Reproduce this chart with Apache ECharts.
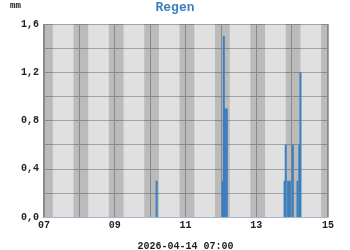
<!DOCTYPE html>
<html><head><meta charset="utf-8">
<script src="https://cdn.jsdelivr.net/npm/echarts@6/dist/echarts.min.js"></script>
<style>html,body{margin:0;padding:0;background:#fff}#c{width:350px;height:250px}</style>
</head><body><div id="c"></div>
<script>
const day = '2026-04-14';
const times = ['10:11','12:03','12:05','12:07','12:10','13:48','13:50','13:54','13:57','14:02','14:10','14:13','14:15'];
const values = [0.3,0.3,1.5,0.9,0.9,0.3,0.6,0.3,0.3,0.6,0.3,0.6,1.2];
const hours = [7,8,9,10,11,12,13,14,15];
const yMax = 1.6;
const titleText = 'Regen';
const unitText = 'mm';
const axisName = '2026-04-14 07:00';

const font = '"Liberation Mono", "DejaVu Sans Mono", monospace';
const pad = n => (n < 10 ? '0' : '') + n;
const ts = t => echarts.time.parse(day + ' ' + t).getTime();
const HOUR = 3600 * 1000, MIN = 60 * 1000;

const data = times.map((t, i) => [ts(t), values[i]]);
const bands = hours.map(h => {
  const c = ts(pad(h) + ':00');
  return [{xAxis: c - 10 * MIN}, {xAxis: c + 15 * MIN}];
});

const chart = echarts.init(document.getElementById('c'));
chart.setOption({
  animation: false,
  backgroundColor: '#ffffff',
  title: {
    text: titleText, left: 'center', top: 1, padding: 0,
    textStyle: {fontFamily: font, fontSize: 13, fontWeight: 'bold', color: '#3a80c0'}
  },
  graphic: [{
    type: 'text', left: 10, top: 1,
    style: {text: unitText, font: 'bold 9px ' + font, fill: '#222'}
  }],
  grid: {left: 43, right: 22, top: 24, bottom: 33, containLabel: false, outerBoundsMode: 'none',
    show: true, backgroundColor: '#e0e0e0', borderWidth: 0},
  xAxis: {
    type: 'time',
    min: ts('07:00'), max: ts('15:00'),
    minInterval: HOUR, maxInterval: HOUR,
    name: axisName, nameLocation: 'middle', nameGap: 24,
    nameTextStyle: {fontFamily: font, fontSize: 10, fontWeight: 'bold', color: '#222'},
    axisLine: {show: true, lineStyle: {color: '#9fb6cc', width: 1}},
    axisTick: {show: false},
    axisLabel: {
      margin: 3, hideOverlap: false, showMinLabel: true, showMaxLabel: true,
      fontFamily: font, fontSize: 10, fontWeight: 'bold', color: '#222',
      formatter: v => { const h = new Date(v).getHours(); return h % 2 ? pad(h) : ''; }
    },
    splitLine: {show: true, lineStyle: {color: '#a4a4a4', width: 1}}
  },
  yAxis: {
    type: 'value', min: 0, max: yMax, interval: 0.2,
    axisLine: {show: false}, axisTick: {show: false},
    axisLabel: {
      margin: 4, fontFamily: font, fontSize: 10, fontWeight: 'bold', color: '#222',
      formatter: v => (Math.round(v * 10) % 4 === 0 ? v.toFixed(1).replace('.', ',') : '')
    },
    splitLine: {show: true, lineStyle: {color: '#a4a4a4', width: 1}}
  },
  series: [
    {
      type: 'line', data: [], silent: true, z: 1,
      markArea: {silent: true, itemStyle: {color: 'rgba(0,0,0,0.165)'}, data: bands}
    },
    {
      type: 'bar', data: data, barWidth: 2, z: 5,
      itemStyle: {color: '#3a7fc0'}
    }
  ]
});
</script></body></html>
